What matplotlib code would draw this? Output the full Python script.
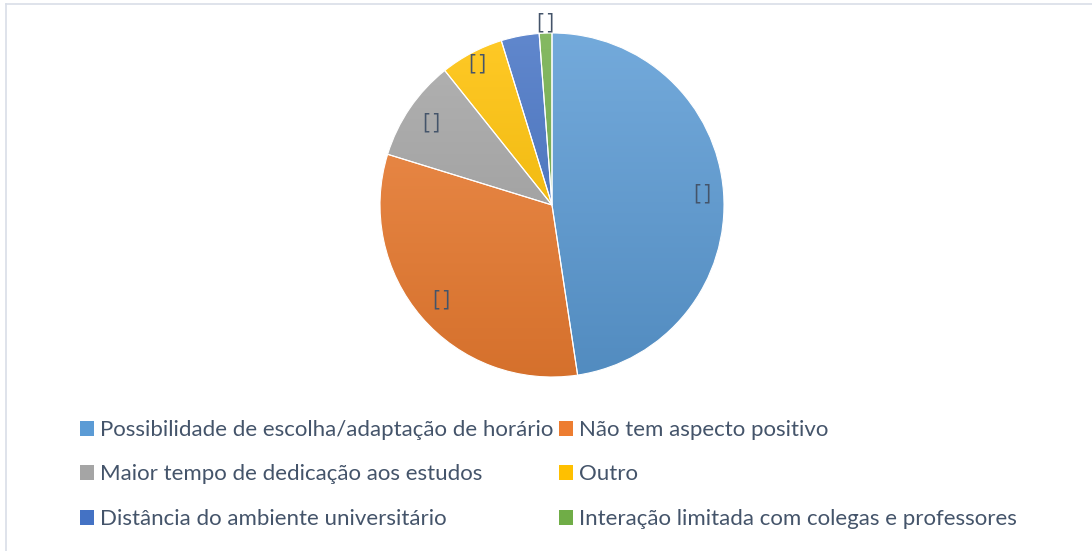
import numpy as np
import matplotlib
matplotlib.use("Agg")
import matplotlib.pyplot as plt
from matplotlib.colors import LinearSegmentedColormap, to_rgb
from matplotlib.patches import Rectangle

categories = [
    "Possibilidade de escolha/adaptação de horário",
    "Não tem aspecto positivo",
    "Maior tempo de dedicação aos estudos",
    "Outro",
    "Distância do ambiente universitário",
    "Interação limitada com colegas e professores",
]
values = [40, 27, 8, 5, 3, 1]
labels = ["[\u2009]", "[\u2009]", "[\u2009]", "[\u2009]", "", "[\u2009]"]
colors = ["#5B9BD5", "#ED7D31", "#A5A5A5", "#FFC000", "#4472C4", "#70AD47"]

TEXT = "#44546A"
plt.rcParams["font.family"] = ["Lato", "DejaVu Sans"]

fig = plt.figure(figsize=(10.92, 5.51), dpi=100)
ax = fig.add_axes([380 / 1092, 174 / 551, 344 / 1092, 344 / 551])

wedges, _ = ax.pie(values, startangle=90, counterclock=False,
                   colors=colors, radius=1,
                   wedgeprops=dict(edgecolor="white", linewidth=0.8))

# gradient fill: lighter at top, darker at bottom
for w, c in zip(wedges, colors):
    base = np.array(to_rgb(c))
    light = base + (1 - base) * 0.15
    dark = base * 0.9
    cmap = LinearSegmentedColormap.from_list("g", [dark, light])
    grad = np.linspace(0, 1, 256).reshape(-1, 1)
    im = ax.imshow(grad, cmap=cmap, extent=[-1, 1, -1, 1], origin="lower",
                   aspect="auto", zorder=w.get_zorder() + 0.1)
    im.set_clip_path(w)
    w.set_facecolor("none")
    w.set_zorder(w.get_zorder() + 0.2)

# data labels (best-fit style)
dist = [0.88, 0.85, 0.85, 0.93, 0.85, 1.06]
for w, lab, d in zip(wedges, labels, dist):
    if not lab:
        continue
    ang = np.deg2rad((w.theta1 + w.theta2) / 2)
    ax.text(d * np.cos(ang), d * np.sin(ang), lab, ha="center", va="center",
            fontsize=15, color=TEXT, family=["Open Sans", "DejaVu Sans"])

ax.set_xlim(-1, 1)
ax.set_ylim(-1, 1)
ax.axis("off")

# legend, row-wise order
order = [0, 2, 4, 1, 3, 5]
handles = [Rectangle((0, 0), 1, 1, facecolor=colors[i]) for i in order]
fig.legend(handles, [categories[i] for i in order], ncol=2,
           loc="upper left", bbox_to_anchor=(60 / 1092, 1 - 400 / 551),
           frameon=False, fontsize=16, labelcolor=TEXT,
           handlelength=0.65, handleheight=0.65, handletextpad=0.27,
           columnspacing=0.22, labelspacing=1.1)

# chart area border
fig.add_artist(plt.Line2D([6 / 1092, 6 / 1092], [0, 1 - 4 / 551],
                          transform=fig.transFigure, color="#D9DEE8", lw=1.2))
fig.add_artist(plt.Line2D([6 / 1092, 1], [1 - 4 / 551, 1 - 4 / 551],
                          transform=fig.transFigure, color="#D9DEE8", lw=1.2))

fig.savefig("out.png", dpi=100)
